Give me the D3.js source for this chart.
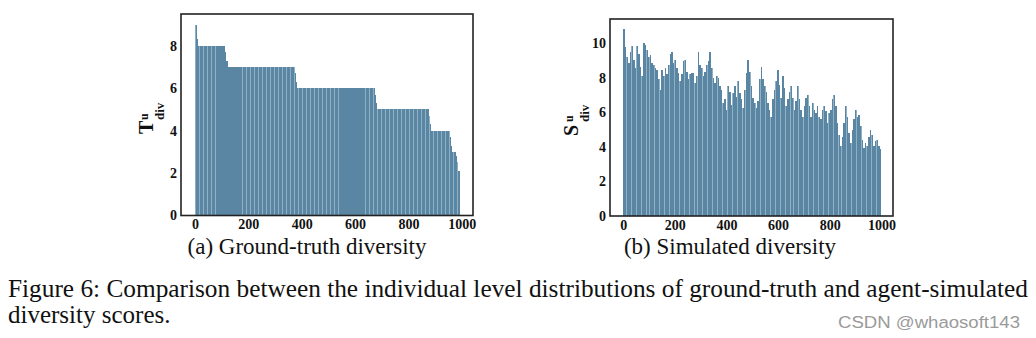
<!DOCTYPE html>
<html>
<head>
<meta charset="utf-8">
<script src="https://cdn.jsdelivr.net/npm/d3@7"></script>
<style>
  body { margin: 0; background: #fff; }
  svg { display: block; }
  .cap { font-family: "Liberation Serif", "Times New Roman", serif; fill: #111; }
</style>
</head>
<body>
<svg id="fig" width="1036" height="338"></svg>
<script>
// ground-truth diversity per user, sorted, as runs of [value, count]
const truthRuns = [
  [9, 6], [8.7, 3], [8.3, 4], [8, 99],
  [7.7, 5], [7.3, 5], [7, 251],
  [6.7, 5], [6.3, 5], [6, 290],
  [5.7, 5], [5.3, 5], [5, 193],
  [4.7, 5], [4.3, 5], [4, 70],
  [3.7, 4], [3.3, 4], [3, 15],
  [2.8, 4], [2.5, 4], [2.1, 5]
]

// simulated diversity, binned along the same user order (0 .. 1000)
const simValues = [
  10.8, 9.8, 9.2, 8.85, 9.5, 9.85, 9.0, 8.55, 9.85, 9.4, 8.65, 8.1,
  10.0, 9.9, 9.6, 9.2, 9.3, 8.85, 8.75, 8.55, 8.45, 7.9, 7.3, 8.45,
  8.1, 8.55, 8.2, 8.75, 9.4, 9.5, 8.85, 9.0, 8.55, 8.25, 7.8, 8.2,
  8.95, 9.0, 8.35, 7.9, 8.2, 8.25, 8.25, 7.7, 8.1, 9.5, 8.75, 8.55,
  8.1, 8.35, 8.75, 8.95, 9.5, 8.55, 8.0, 7.7, 8.1, 8.0, 7.5, 7.3,
  6.55, 6.75, 6.15, 7.5, 7.2, 6.45, 7.1, 7.5, 6.9, 7.8, 7.1, 6.75,
  6.25, 7.3, 8.25, 9.0, 8.35, 7.5, 6.8, 6.55, 6.25, 6.65, 7.9, 8.65,
  7.9, 7.5, 7.2, 6.55, 6.15, 5.75, 6.75, 7.3, 7.8, 8.45, 7.6, 6.8,
  8.1, 7.4, 6.35, 6.75, 7.2, 7.5, 6.8, 6.15, 6.65, 7.5, 6.75, 6.15,
  5.75, 6.35, 6.8, 7.0, 6.35, 5.75, 6.55, 6.15, 5.95, 6.35, 5.75, 5.6,
  6.15, 6.35, 6.05, 5.4, 5.95, 6.15, 6.75, 7.0, 6.35, 5.4, 4.7, 4.05,
  4.6, 5.4, 6.35, 5.75, 4.8, 4.25, 5.0, 5.6, 6.15, 5.75, 5.85, 5.2,
  4.4, 3.95, 4.25, 4.05, 4.6, 5.0, 4.7, 4.05, 4.35, 4.4, 4.05, 3.85
]

const xTicks = [0, 200, 400, 600, 800, 1000]
const truthYTicks = [0, 2, 4, 6, 8]
const simYTicks = [0, 2, 4, 6, 8, 10]

const barColor = '#5a86a3'
const gapColor = '#8fb1c6'
const serif = '"Liberation Serif", "Times New Roman", serif'

const svg = d3.select('#fig')

// expand the runs into one value per user
const truthValues = []
truthRuns.forEach(function(r) {
  for (let k = 0; k < r[1]; k++) truthValues.push(r[0])
})

function styleTicks(a) {
  a.select('.domain').remove()
  a.selectAll('text')
    .attr('font-family', serif)
    .attr('font-weight', 'bold')
    .attr('font-size', 14)
    .attr('fill', '#111')
}

function panel(opts) {
  const g = svg.append('g')
  const x = d3.scaleLinear().domain(opts.xDomain).range([opts.left, opts.right])
  const y = d3.scaleLinear().domain(opts.yDomain).range([opts.bottom, opts.top])
  const bars = opts.values.map(function(v, i) {
    return { x0: i * opts.span, v: v }
  })

  // lighter full-width layer, then the bars themselves on top
  g.append('g')
    .selectAll('rect')
    .data(bars)
    .join('rect')
    .attr('x', d => x(d.x0))
    .attr('width', d => x(d.x0 + opts.span) - x(d.x0))
    .attr('y', d => y(d.v))
    .attr('height', d => y(0) - y(d.v))
    .attr('fill', gapColor)
    .attr('shape-rendering', 'crispEdges')

  g.append('g')
    .selectAll('rect')
    .data(bars)
    .join('rect')
    .attr('x', d => x(d.x0 + opts.span * 0.1))
    .attr('width', d => x(d.x0 + opts.span * 0.8) - x(d.x0))
    .attr('y', d => y(d.v))
    .attr('height', d => y(0) - y(d.v))
    .attr('fill', barColor)
    .attr('shape-rendering', 'crispEdges')

  g.append('g')
    .attr('transform', `translate(0,${opts.bottom})`)
    .call(d3.axisBottom(x).tickValues(xTicks).tickFormat(d3.format('d')).tickSize(0).tickPadding(4))
    .call(styleTicks)

  g.append('g')
    .attr('transform', `translate(${opts.left},0)`)
    .call(d3.axisLeft(y).tickValues(opts.yTicks).tickFormat(d3.format('d')).tickSize(0).tickPadding(4))
    .call(styleTicks)

  // frame
  g.append('rect')
    .attr('x', opts.left)
    .attr('y', opts.top)
    .attr('width', opts.right - opts.left)
    .attr('height', opts.bottom - opts.top)
    .attr('fill', 'none')
    .attr('stroke', '#222')
    .attr('stroke-width', 1.6)

  // y label: letter with superscript u and subscript div
  const lab = g.append('g')
    .attr('transform', `translate(${opts.labelX},${opts.labelY}) rotate(-90)`)
    .attr('class', 'cap')
    .attr('font-weight', 'bold')
  lab.append('text').attr('x', -19).attr('y', 0).attr('font-size', 20).text(opts.letter)
  lab.append('text').attr('x', -5).attr('y', -5).attr('font-size', 12).text('u')
  lab.append('text').attr('x', -5).attr('y', 11).attr('font-size', 13).text('div')

  g.append('text')
    .attr('class', 'cap')
    .attr('x', opts.captionX)
    .attr('y', 254)
    .attr('text-anchor', 'middle')
    .attr('font-size', 23)
    .text(opts.caption)
}

panel({
  values: truthValues,
  span: 1,
  xDomain: [-52.4, 1042],
  yDomain: [0, 9.5],
  left: 181, right: 473, top: 14, bottom: 215.5,
  yTicks: truthYTicks,
  letter: 'T', labelX: 153, labelY: 115,
  caption: '(a) Ground-truth diversity', captionX: 307
})

panel({
  values: simValues,
  span: 1000 / simValues.length,
  xDomain: [-51, 1045],
  yDomain: [0, 11.4],
  left: 610, right: 893, top: 19, bottom: 216,
  yTicks: simYTicks,
  letter: 'S', labelX: 578, labelY: 117,
  caption: '(b) Simulated diversity', captionX: 730
})

svg.append('text')
  .attr('class', 'cap')
  .attr('x', 8)
  .attr('y', 297)
  .attr('font-size', 25)
  .attr('textLength', 1020)
  .attr('lengthAdjust', 'spacingAndGlyphs')
  .text('Figure 6: Comparison between the individual level distributions of ground-truth and agent-simulated')

svg.append('text')
  .attr('class', 'cap')
  .attr('x', 8)
  .attr('y', 323)
  .attr('font-size', 25)
  .text('diversity scores.')

svg.append('text')
  .attr('x', 1020)
  .attr('y', 328)
  .attr('text-anchor', 'end')
  .attr('font-family', '"Liberation Sans", Arial, sans-serif')
  .attr('font-size', 16)
  .attr('textLength', 182)
  .attr('lengthAdjust', 'spacingAndGlyphs')
  .attr('fill', '#9a9a9a')
  .text('CSDN @whaosoft143')
</script>
</body>
</html>
